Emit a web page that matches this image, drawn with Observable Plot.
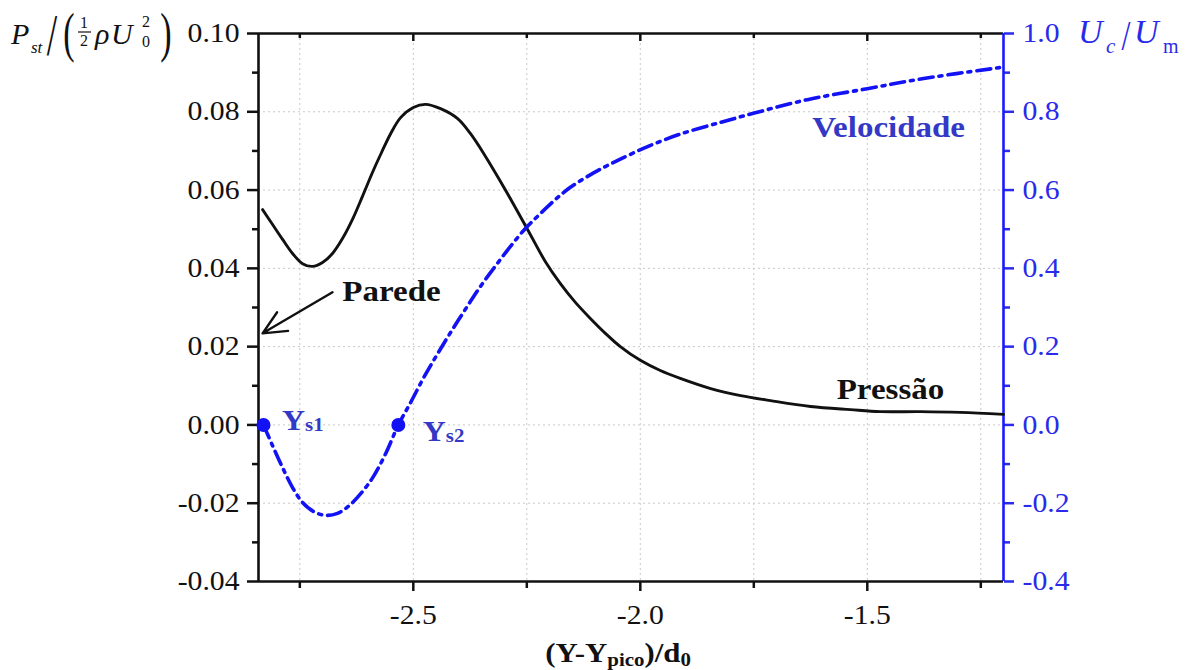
<!DOCTYPE html>
<html>
<head>
<meta charset="utf-8">
<script src="https://cdn.jsdelivr.net/npm/d3@7"></script>
<script src="https://cdn.jsdelivr.net/npm/@observablehq/plot@0.6"></script>
<style>
  html, body { margin: 0; padding: 0; background: #fff; }
  svg { display: block; }
</style>
</head>
<body>
<div id="chart"></div>
<script>
// ---------- data ----------
const xDomain = [-2.841, -1.2];
const yDomain = [-0.04, 0.10];          // left axis P_st/(1/2 rho U0^2)
const velRatio = 10;                    // right axis U_c/U_m = 10 * left units

const pressaoX = [-2.832, -2.810, -2.788, -2.766, -2.744, -2.722, -2.700, -2.678, -2.656, -2.634, -2.612, -2.590, -2.570, -2.550, -2.528, -2.500, -2.473, -2.440, -2.403, -2.374, -2.341, -2.308, -2.275, -2.242, -2.209, -2.176, -2.143, -2.110, -2.077, -2.044, -2.000, -1.956, -1.912, -1.845, -1.779, -1.713, -1.625, -1.537, -1.471, -1.383, -1.295, -1.200];
const pressaoY = [0.0550, 0.0512, 0.0474, 0.0438, 0.0412, 0.0405, 0.0415, 0.0438, 0.0476, 0.0525, 0.0584, 0.0645, 0.0696, 0.0744, 0.0785, 0.0811, 0.0819, 0.0808, 0.0783, 0.0744, 0.0686, 0.0622, 0.0555, 0.0486, 0.0417, 0.0361, 0.0313, 0.0272, 0.0234, 0.0200, 0.0165, 0.0139, 0.0119, 0.0093, 0.0075, 0.0062, 0.0047, 0.0039, 0.0034, 0.0034, 0.0032, 0.0027];

const velX = [-2.830, -2.810, -2.788, -2.766, -2.744, -2.720, -2.694, -2.667, -2.641, -2.614, -2.588, -2.560, -2.533, -2.506, -2.478, -2.449, -2.418, -2.385, -2.352, -2.319, -2.286, -2.253, -2.220, -2.187, -2.154, -2.116, -2.077, -2.044, -1.984, -1.912, -1.823, -1.751, -1.632, -1.500, -1.376, -1.207];
const velU = [0.000, -0.053, -0.109, -0.160, -0.198, -0.221, -0.231, -0.226, -0.206, -0.173, -0.132, -0.071, 0.000, 0.057, 0.119, 0.177, 0.236, 0.296, 0.354, 0.406, 0.456, 0.502, 0.540, 0.576, 0.607, 0.635, 0.660, 0.679, 0.711, 0.743, 0.773, 0.796, 0.831, 0.859, 0.885, 0.913];

const stagX = [-2.830, -2.533];
const stagNames = ["s1", "s2"];

const xMajorTicks = [-2.5, -2.0, -1.5];
const xMajorLabels = ["-2.5", "-2.0", "-1.5"];
const xMinorTicks = [-2.75, -2.25, -1.75, -1.25];

const yLeftTicks = [-0.04, -0.02, 0, 0.02, 0.04, 0.06, 0.08, 0.10];
const yLeftLabels = ["-0.04", "-0.02", "0.00", "0.02", "0.04", "0.06", "0.08", "0.10"];
const yLeftMinor = [-0.03, -0.01, 0.01, 0.03, 0.05, 0.07, 0.09];
const yGridTicks = [-0.02, 0, 0.02, 0.04, 0.06, 0.08];

const yRightTicks = [-0.4, -0.2, 0, 0.2, 0.4, 0.6, 0.8, 1.0];
const yRightLabels = ["-0.4", "-0.2", "0.0", "0.2", "0.4", "0.6", "0.8", "1.0"];
const yRightMinor = [-0.3, -0.1, 0.1, 0.3, 0.5, 0.7, 0.9];

const labelTexts = ["Parede", "Pressão", "Velocidade"];
const labelX = [-2.548, -1.449, -1.453];
const labelY = [0.0342, 0.0092, 0.0759];
const arrowFrom = [-2.678, 0.0339];
const arrowTo = [-2.832, 0.0234];

// ---------- build ----------
const BLUE = "#1212f5";
const BLUE_TXT = "#3438c6";
const W = 1191, H = 670;
const M = {left: 258, right: 188, top: 33, bottom: 89};

const pressao = pressaoX.map((x, i) => ({x, y: pressaoY[i]}));
const vel = velX.map((x, i) => ({x, y: velU[i] / velRatio}));
const stag = stagX.map((x, i) => ({x, y: 0, name: stagNames[i]}));
const labels = labelTexts.map((t, i) => ({t, x: labelX[i], y: labelY[i], c: i === 2 ? BLUE_TXT : "#111"}));

const lookup = (ticks, labs, k = 1) => d => {
  const i = ticks.findIndex(v => Math.abs(v / k - d) < 1e-9);
  return i >= 0 ? labs[i] : "";
};
const allX = [...xMajorTicks, ...xMinorTicks];

const chart = Plot.plot({
  width: W, height: H,
  marginLeft: M.left, marginRight: M.right, marginTop: M.top, marginBottom: M.bottom,
  x: {domain: xDomain},
  y: {domain: yDomain},
  style: {fontFamily: "'Liberation Serif', 'Times New Roman', serif", fontSize: "27px", background: "#fff", color: "#111", overflow: "visible"},
  marks: [
    Plot.gridX({ticks: allX, stroke: "#c8c8c8", strokeOpacity: 1, strokeWidth: 1, strokeDasharray: "2,3"}),
    Plot.gridY({ticks: yGridTicks, stroke: "#c8c8c8", strokeOpacity: 1, strokeWidth: 1, strokeDasharray: "2,3"}),
    // left axis
    Plot.axisY({anchor: "left", ticks: yLeftTicks, tickFormat: lookup(yLeftTicks, yLeftLabels), tickSize: 11, tickPadding: 8, strokeWidth: 2.5, label: null, color: "#111"}),
    Plot.axisY({anchor: "left", ticks: yLeftMinor, tickFormat: () => "", tickSize: 6, strokeWidth: 2.5, label: null, color: "#111"}),
    // right axis (velocity)
    Plot.axisY({anchor: "right", ticks: yRightTicks.map(v => v / velRatio), tickFormat: lookup(yRightTicks, yRightLabels, velRatio), tickSize: 10, tickPadding: 9, strokeWidth: 2.5, label: null, color: "#2a2aea"}),
    Plot.axisY({anchor: "right", ticks: yRightMinor.map(v => v / velRatio), tickFormat: () => "", tickSize: 6, strokeWidth: 2.5, label: null, color: "#2a2aea"}),
    // bottom axis
    Plot.axisX({anchor: "bottom", ticks: xMajorTicks, tickFormat: lookup(xMajorTicks, xMajorLabels), tickSize: 10, tickPadding: 13, strokeWidth: 2.5, label: null, color: "#111"}),
    Plot.axisX({anchor: "bottom", ticks: xMinorTicks, tickFormat: () => "", tickSize: 7, strokeWidth: 2.5, label: null, color: "#111"}),
    // top inward ticks
    Plot.ruleX(xMajorTicks, {x: d => d, y1: yDomain[1], y2: yDomain[1], insetBottom: -8, stroke: "#111", strokeWidth: 2.5}),
    Plot.ruleX(xMinorTicks, {x: d => d, y1: yDomain[1], y2: yDomain[1], insetBottom: -5, stroke: "#111", strokeWidth: 2.5}),
    // frame
    Plot.ruleY([yDomain[0]], {stroke: "#111", strokeWidth: 2.6}),
    Plot.ruleY([yDomain[1]], {stroke: "#111", strokeWidth: 2.6}),
    Plot.ruleX([xDomain[0]], {stroke: "#111", strokeWidth: 2.6}),
    Plot.ruleX([xDomain[1]], {stroke: "#1a1aff", strokeWidth: 2.6}),
    // series
    Plot.line(pressao, {x: "x", y: "y", stroke: "#111", strokeWidth: 2.9, curve: "catmull-rom"}),
    Plot.line(vel, {x: "x", y: "y", stroke: BLUE, strokeWidth: 3.6, strokeDasharray: "14,6,3,6", curve: "catmull-rom"}),
    Plot.dot(stag, {x: "x", y: "y", r: 7, fill: BLUE, stroke: null}),
    // annotations
    Plot.arrow([{x1: arrowFrom[0], y1: arrowFrom[1], x2: arrowTo[0], y2: arrowTo[1]}], {x1: "x1", y1: "y1", x2: "x2", y2: "y2", stroke: "#111", strokeWidth: 2.4, headLength: 16, headAngle: 50, insetStart: 0, insetEnd: 0}),
    Plot.text(labels, {x: "x", y: "y", text: "t", fill: "c", fontSize: 30, fontWeight: "bold"})
  ]
});
document.getElementById("chart").appendChild(chart);

// horizontal stretch of text to match the reference's wider glyphs
const SX = 1.1;
chart.querySelectorAll("text").forEach(t => {
  const tr = t.getAttribute("transform");
  if (tr) t.setAttribute("transform", tr + ` scale(${SX},1)`);
});

const xs = d3.scaleLinear().domain(xDomain).range([M.left, W - M.right]);
const ys = d3.scaleLinear().domain(yDomain).range([H - M.bottom, M.top]);
const svg = d3.select(chart);
const SERIF = "'Liberation Serif', 'Times New Roman', serif";

// stagnation labels Y_s1, Y_s2
const stagOff = [[19, 6], [25, 17]];
stag.forEach((d, i) => {
  const t = svg.append("text")
    .attr("transform", `translate(${xs(d.x) + stagOff[i][0]},${ys(d.y) + stagOff[i][1]}) scale(${SX},1)`)
    .attr("text-anchor", "start")
    .attr("font-family", SERIF).attr("font-weight", "bold").attr("fill", BLUE_TXT).attr("font-size", 29);
  t.append("tspan").text("Y");
  t.append("tspan").attr("font-size", 19).attr("dy", 1).text(d.name);
});

// helper for math titles
const add = (g, x, y, txt, size, opts = {}) => {
  const e = g.append("text").attr("transform", `translate(${x},${y})` + (opts.scale ? ` scale(${opts.scale})` : ""))
    .attr("font-size", size).attr("text-anchor", opts.anchor || "start").text(txt);
  if (opts.italic) e.attr("font-style", "italic");
  return e;
};

// left axis title: P_st / ( 1/2 ρ U_0^2 )
const lt = svg.append("g").attr("font-family", SERIF).attr("fill", "#111");
add(lt, 11, 44, "P", 30, {italic: true});
add(lt, 31, 53, "st", 17, {italic: true});
add(lt, 52, 55, "/", 34, {anchor: "middle", scale: "1.1,1.75"});
add(lt, 69, 51, "(", 34, {anchor: "middle", scale: "1,1.6"});
add(lt, 84, 28, "1", 16, {anchor: "middle"});
lt.append("line").attr("x1", 78).attr("x2", 91).attr("y1", 32).attr("y2", 32).attr("stroke", "#111").attr("stroke-width", 1.2);
add(lt, 84, 46, "2", 16, {anchor: "middle"});
add(lt, 95, 44, "ρ", 30, {italic: true});
add(lt, 111, 44, "U", 30, {italic: true});
add(lt, 142, 27, "2", 16);
add(lt, 142, 47, "0", 16);
add(lt, 166, 51, ")", 34, {anchor: "middle", scale: "1,1.6"});

// right axis title: U_c / U_m
const rt = svg.append("g").attr("font-family", SERIF).attr("fill", "#2a2aea");
add(rt, 1078, 43, "U", 34, {italic: true});
add(rt, 1106, 53, "c", 21, {italic: true});
add(rt, 1126, 50, "/", 32, {anchor: "middle", scale: "1,1.3"});
add(rt, 1134, 43, "U", 34, {italic: true});
add(rt, 1163, 53, "m", 20);

// bottom title: (Y-Y_pico)/d_0
const bt = svg.append("text")
  .attr("transform", `translate(618,662) scale(${SX},1)`)
  .attr("text-anchor", "middle").attr("font-family", SERIF).attr("font-weight", "bold")
  .attr("font-size", 28).attr("fill", "#111");
bt.append("tspan").text("(Y-Y");
bt.append("tspan").attr("font-size", 19).attr("dy", 4).text("pico");
bt.append("tspan").attr("dy", -4).text(")/d");
bt.append("tspan").attr("font-size", 19).attr("dy", 4).text("0");
</script>
</body>
</html>
